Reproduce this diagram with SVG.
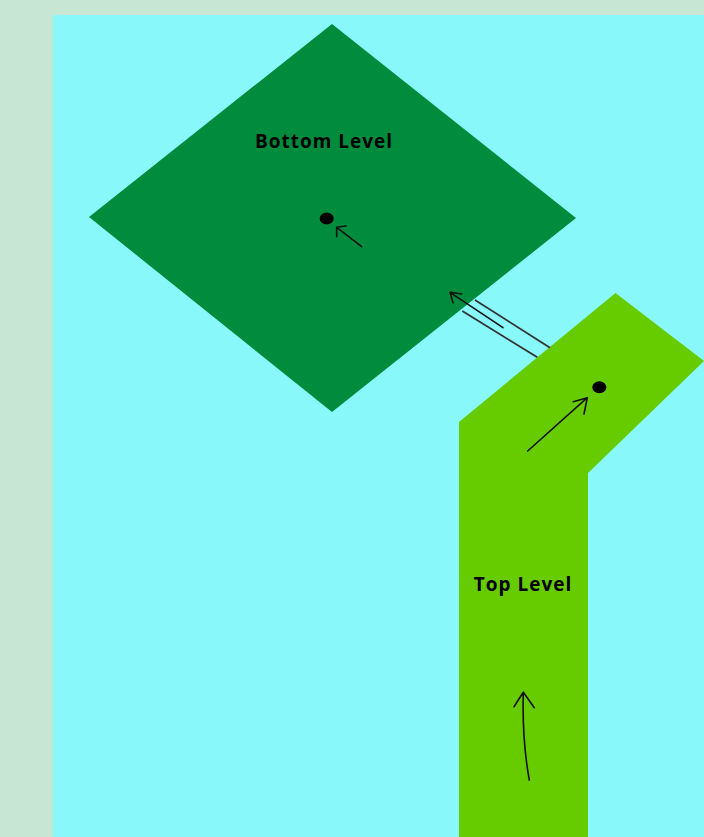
<svg xmlns="http://www.w3.org/2000/svg" width="704" height="837" viewBox="0 0 704 837">
<defs>
<style>
.lbl{font-family:"Open Sans","Liberation Sans",sans-serif;font-weight:bold;font-size:19px;letter-spacing:1px;fill:#000;text-anchor:middle}
.ln{fill:none;stroke:#111;stroke-width:1.6;stroke-linecap:round;stroke-linejoin:round}
.ln2{fill:none;stroke:#333;stroke-width:1.8}
</style>
</defs>
<rect x="0" y="0" width="704" height="837" fill="#C8E6D4"/>
<rect x="53" y="15" width="651" height="822" fill="#88F8FA"/>
<g id="bottom-level">
<polygon points="332,24 576,218 332,412 89,217" fill="#008C3C"/>
<text class="lbl" x="324" y="147.5">Bottom Level</text>
<ellipse cx="326.7" cy="218.5" rx="7" ry="6" fill="#000"/>
</g>
<g id="top-level">
<polygon points="459,837 459,422 615.5,293 704,361 588,473 588,837" fill="#66CC00"/>
<text class="lbl" x="523" y="590.5">Top Level</text>
<ellipse cx="599.3" cy="387.3" rx="7" ry="6" fill="#000"/>
</g>
<g id="connectors">
<path class="ln" d="M361.7,246.7 L336.7,227.3 M336.7,236.7 L336.7,227.3 L346,226"/>
<path class="ln" d="M527.7,451 L587.3,397.7 M584,414 L587.3,397.7 L573.3,401.7"/>
<path class="ln" d="M529.3,780 Q522,740 523.3,692.3 M514,706.7 L523.3,692.3 L534.3,707.7"/>
<line class="ln2" x1="475" y1="300" x2="550" y2="347.7"/>
<line class="ln2" x1="462.3" y1="311" x2="537.3" y2="357.3"/>
<path class="ln" d="M503,327.7 L450,292.3 M453,302.7 L450,292.3 L461.7,294"/>
</g>
</svg>
